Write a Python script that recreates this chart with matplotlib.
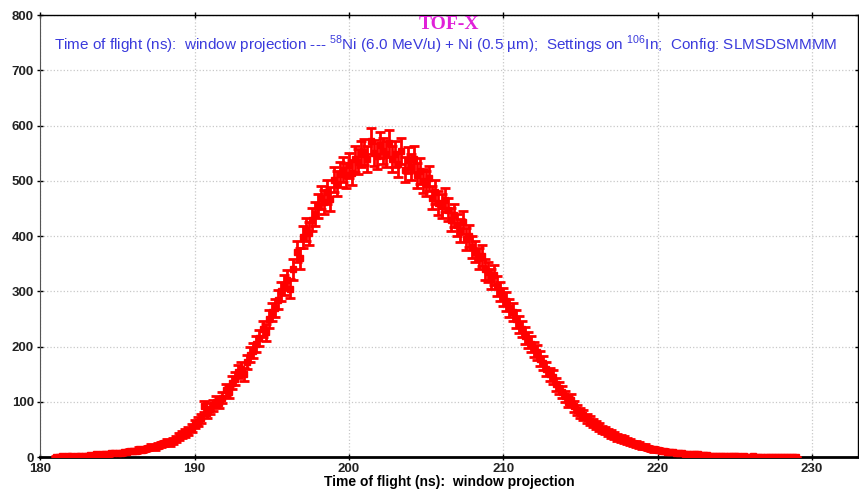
import numpy as np
import matplotlib.pyplot as plt

# counts per 0.2 ns bin, starting at 181.0 ns (one row per ns)
counts = [
    1, 1, 2, 1, 2,
    2, 1, 3, 2, 3,
    3, 4, 3, 5, 4,
    5, 6, 5, 7, 8,
    8, 7, 9, 10, 11,
    12, 11, 14, 13, 15,
    17, 19, 18, 21, 23,
    25, 27, 26, 30, 33,
    38, 41, 44, 47, 52,
    60, 64, 70, 92, 80,
    88, 94, 100, 98, 108,
    122, 118, 135, 142, 155,
    160, 150, 172, 185, 193,
    205, 215, 232, 226, 250,
    262, 270, 285, 300, 312,
    320, 305, 340, 372, 360,
    398, 412, 405, 430, 440,
    455, 470, 462, 480, 468,
    502, 495, 512, 520, 510,
    528, 515, 540, 535, 548,
    552, 540, 572, 550, 545,
    565, 555, 548, 568, 540,
    548, 530, 555, 520, 538,
    525, 540, 510, 518, 500,
    495, 505, 470, 480, 460,
    455, 465, 448, 430, 438,
    420, 410, 425, 395, 400,
    380, 372, 360, 365, 340,
    335, 322, 330, 310, 300,
    290, 282, 270, 262, 250,
    240, 232, 220, 212, 205,
    195, 190, 178, 170, 160,
    150, 145, 132, 125, 118,
    110, 100, 104, 92, 86,
    80, 76, 70, 66, 62,
    58, 55, 50, 48, 45,
    42, 40, 36, 34, 32,
    30, 28, 25, 24, 22,
    20, 19, 17, 15, 14,
    13, 12, 11, 10, 10,
    9, 8, 8, 7, 6,
    6, 5, 5, 5, 4,
    4, 4, 3, 3, 3,
    3, 2, 3, 2, 2,
    2, 2, 1, 2, 1,
    1, 2, 1, 1, 1,
    1, 1, 0, 1, 1,
    0, 1, 0, 1, 0,
    0,
]
t_start = 181.0
bin_width = 0.2

x_ticks = [180, 190, 200, 210, 220, 230]
y_ticks = [0, 100, 200, 300, 400, 500, 600, 700, 800]

title = "TOF-X"
subtitle = ("Time of flight (ns):  window projection --- $^{58}$Ni (6.0 MeV/u) + Ni (0.5 \u00b5m);"
            "  Settings on $^{106}$In;  Config: SLMSDSMMMM")
xlabel = "Time of flight (ns):  window projection"

counts = np.array(counts, dtype=float)
tof = np.round(t_start + bin_width * np.arange(len(counts)), 1)
errors = np.sqrt(counts)

plt.rcParams['font.family'] = ['Liberation Sans', 'DejaVu Sans']
plt.rcParams['mathtext.fontset'] = 'custom'
plt.rcParams['mathtext.rm'] = 'Liberation Sans'

fig = plt.figure(figsize=(8.59, 4.90), dpi=100)
ax = fig.add_axes([0.047, 0.067, 0.952, 0.902])

ax.errorbar(tof, counts, yerr=errors, fmt='s', color='#ff0000', ms=5,
            elinewidth=2, capsize=3.5, capthick=2, zorder=3)

ax.set_xlim(180, 233)
ax.set_ylim(0, 800)
ax.set_xticks(x_ticks)
ax.set_yticks(y_ticks)
ax.grid(True, linestyle=':', color='#c8c8c8', linewidth=0.9)
ax.tick_params(direction='inout', length=5, width=1, top=True, right=True,
               labelsize=9.5, labelcolor='#222222', pad=2)
for lab in ax.get_xticklabels() + ax.get_yticklabels():
    lab.set_fontweight('bold')

ax.spines['bottom'].set_linewidth(2)
ax.spines['left'].set_color('#555555')
for s in ['top', 'right']:
    ax.spines[s].set_linewidth(1)

ax.set_xlabel(xlabel, fontsize=10, fontweight='bold', labelpad=0)

ax.text(0.5, 0.998, title, transform=ax.transAxes, ha='center', va='top',
        fontsize=14, fontweight='bold', color='#e020d8', family='Liberation Serif')
ax.text(0.017, 0.933, subtitle, transform=ax.transAxes, ha='left', va='center',
        fontsize=11, color='#3a3adc')

fig.savefig('out.png', dpi=100)
